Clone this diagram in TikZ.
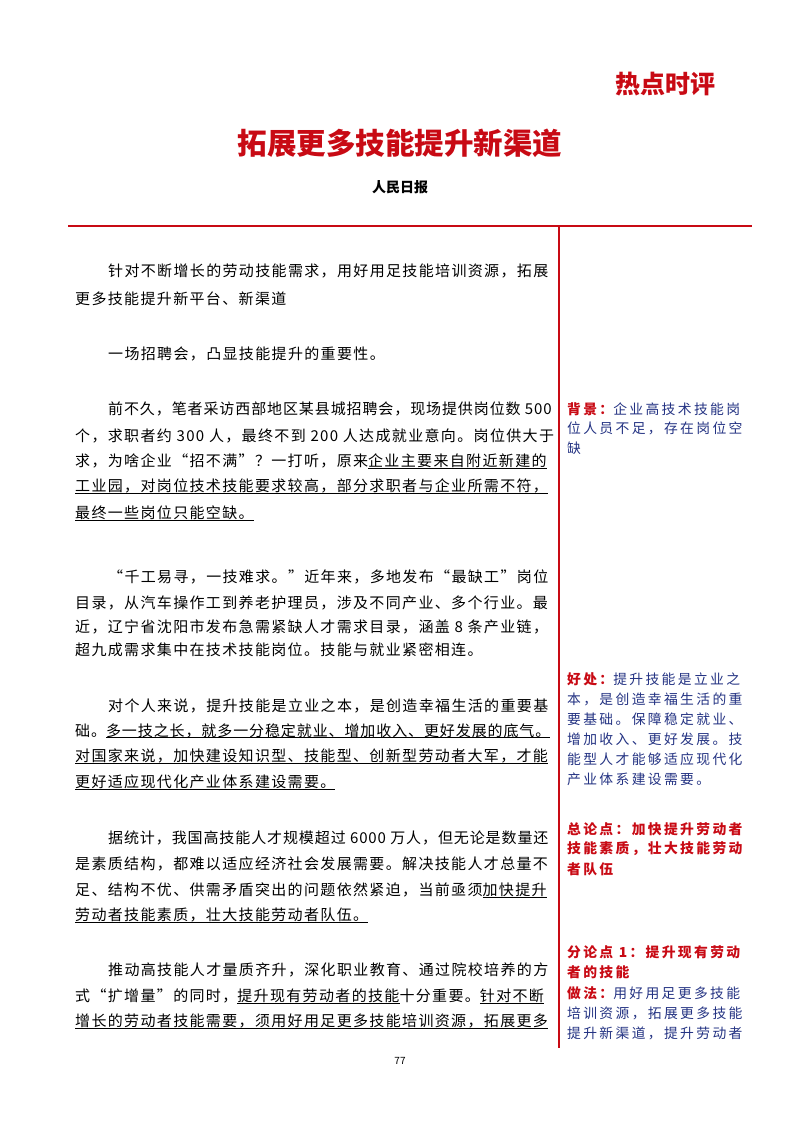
\documentclass[tikz,border=0pt]{standalone}
\usepackage{fontspec}
\setmainfont{Noto Sans CJK SC}
\newfontfamily\maintxt[LetterSpace=9]{Noto Sans CJK SC}
\newfontfamily\maintight[LetterSpace=6]{Noto Sans CJK SC}
\newfontfamily\sidetxt[LetterSpace=17]{Noto Sans CJK SC}
\definecolor{hdred}{RGB}{200,10,20}
\definecolor{sideblue}{RGB}{35,50,130}
\tikzset{
  ml/.style={anchor=west,inner sep=0pt,font=\maintxt\fontsize{15}{15}\selectfont},
  mlt/.style={anchor=west,inner sep=0pt,font=\maintight\fontsize{15}{15}\selectfont},
  sl/.style={anchor=west,inner sep=0pt,font=\sidetxt\fontsize{13.8}{14}\selectfont,text=sideblue},
}
\newcommand\lab[1]{\textcolor{hdred}{\bfseries #1}}
\newcommand\ul[1]{\underline{\smash{#1}\vphantom{工}}}
\begin{document}
\begin{tikzpicture}[x=1pt,y=-1pt]
\useasboundingbox (0,0) rectangle (800,1132);
\node[font=\bfseries\fontsize{25}{25}\selectfont,text=hdred] (col) at (665,84) {热点时评};
\node[font=\bfseries\fontsize{29.5}{29.5}\selectfont,text=hdred] (title) at (400,143) {拓展更多技能提升新渠道};
\node[font=\bfseries\fontsize{14}{14}\selectfont] (src) at (400,187) {人民日报};
\coordinate (hl) at (68,226); \coordinate (hr) at (752,226);
\coordinate (vt) at (559,226); \coordinate (vb) at (559,1048);
\draw[hdred,line width=2.5pt] (hl) -- (hr);
\draw[hdred,line width=2.5pt] (vt) -- (vb);
% main text
\node[ml] (a1) at (108,271) {针对不断增长的劳动技能需求，用好用足技能培训资源，拓展};
\node[ml] (a2) at (75,299) {更多技能提升新平台、新渠道};
\node[ml] (b1) at (108,354) {一场招聘会，凸显技能提升的重要性。};
\node[mlt] (c1) at (108,409) {前不久，笔者采访西部地区某县城招聘会，现场提供岗位数 500};
\node[ml] (c2) at (75,436) {个，求职者约 300 人，最终不到 200 人达成就业意向。岗位供大于};
\node[ml] (c3) at (75,461) {求，为啥企业“招不满”？一打听，原来\ul{企业主要来自附近新建的}};
\node[ml] (c4) at (75,487) {\ul{工业园，对岗位技术技能要求较高，部分求职者与企业所需不符，}};
\node[ml] (c5) at (75,514) {\ul{最终一些岗位只能空缺。}};
\node[ml] (d1) at (108,577) {“千工易寻，一技难求。”近年来，多地发布“最缺工”岗位};
\node[ml] (d2) at (75,603) {目录，从汽车操作工到养老护理员，涉及不同产业、多个行业。最};
\node[ml] (d3) at (75,627) {近，辽宁省沈阳市发布急需紧缺人才需求目录，涵盖 8 条产业链，};
\node[ml] (d4) at (75,650) {超九成需求集中在技术技能岗位。技能与就业紧密相连。};
\node[ml] (e1) at (108,706) {对个人来说，提升技能是立业之本，是创造幸福生活的重要基};
\node[mlt] (e2) at (75,731) {础。\ul{多一技之长，就多一分稳定就业、增加收入、更好发展的底气。}};
\node[ml] (e3) at (75,757) {\ul{对国家来说，加快建设知识型、技能型、创新型劳动者大军，才能}};
\node[ml] (e4) at (75,783) {\ul{更好适应现代化产业体系建设需要。}};
\node[mlt] (f1) at (108,838) {据统计，我国高技能人才规模超过 6000 万人，但无论是数量还};
\node[ml] (f2) at (75,864) {是素质结构，都难以适应经济社会发展需要。解决技能人才总量不};
\node[ml] (f3) at (75,890) {足、结构不优、供需矛盾突出的问题依然紧迫，当前亟须\ul{加快提升}};
\node[ml] (f4) at (75,916) {\ul{劳动者技能素质，壮大技能劳动者队伍。}};
\node[ml] (g1) at (108,970) {推动高技能人才量质齐升，深化职业教育、通过院校培养的方};
\node[ml] (g2) at (75,996) {式“扩增量”的同时，\ul{提升现有劳动者的技能}十分重要。\ul{针对不断}};
\node[ml] (g3) at (75,1022) {\ul{增长的劳动者技能需要，须用好用足更多技能培训资源，拓展更多}};
\node[font=\fontsize{10}{10}\selectfont] (pg) at (400,1061) {77};
% side column
\node[sl] (s1) at (567,409) {\lab{背景：}企业高技术技能岗};
\node[sl] (s2) at (567,428) {位人员不足，存在岗位空};
\node[sl] (s3) at (567,448) {缺};
\node[sl] (t1) at (567,679) {\lab{好处：}提升技能是立业之};
\node[sl] (t2) at (567,699) {本，是创造幸福生活的重};
\node[sl] (t3) at (567,719) {要基础。保障稳定就业、};
\node[sl] (t4) at (567,739) {增加收入、更好发展。技};
\node[sl] (t5) at (567,759) {能型人才能够适应现代化};
\node[sl] (t6) at (567,779) {产业体系建设需要。};
\node[sl] (u1) at (567,829) {\lab{总论点：加快提升劳动者}};
\node[sl] (u2) at (567,849) {\lab{技能素质，壮大技能劳动}};
\node[sl] (u3) at (567,869) {\lab{者队伍}};
\node[sl] (v1) at (567,952) {\lab{分论点 1：提升现有劳动}};
\node[sl] (v2) at (567,972) {\lab{者的技能}};
\node[sl] (v3) at (567,993) {\lab{做法：}用好用足更多技能};
\node[sl] (v4) at (567,1013) {培训资源，拓展更多技能};
\node[sl] (v5) at (567,1033) {提升新渠道，提升劳动者};
\end{tikzpicture}
\end{document}
